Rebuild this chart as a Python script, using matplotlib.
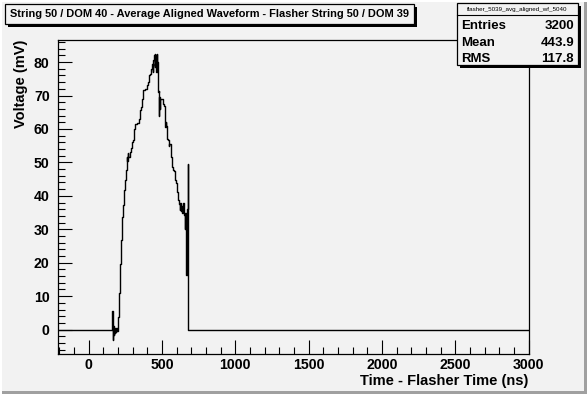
import matplotlib
matplotlib.use("Agg")
import matplotlib.pyplot as plt
from matplotlib.patches import Rectangle
from matplotlib.ticker import MultipleLocator

# ---- data ----
time_ns = [-210, 158, 160, 162, 164, 166, 168, 170, 173, 176, 180, 184, 188, 192, 196,
           200, 207, 216, 220, 227, 233, 240, 247, 252, 258, 263, 266, 270, 278, 289,
           296, 300, 307, 316, 330, 341, 348, 355, 362, 369, 382, 394, 403, 410, 416,
           423, 430, 436, 439, 446, 449, 452, 455, 458, 461, 464, 467, 471, 476, 480,
           482, 485, 489, 503, 514, 517, 519, 522, 525, 530, 535, 542, 545, 549, 558,
           565, 572, 581, 588, 595, 600, 604, 611, 618, 621, 623, 626, 629, 632, 634,
           637, 640, 643, 646, 649, 653, 656, 659, 662, 664, 666, 668, 670, 672, 674,
           676, 678, 3000]
voltage_mV = [0, 0, 5.7, -1, 3, -3, 1, -1.5, 0.5, -1, 0, -0.8, 0.5, -0.5, 1,
              3.8, 11, 19.7, 26.8, 33.8, 37.3, 41.7, 44.7, 47.7, 51.7, 50.5, 52.7, 51.5, 53.1, 54.2,
              56.1, 56.6, 60.1, 61.6, 61.8, 63.1, 65.6, 66.6, 69, 71.5, 72, 73, 74, 76, 76.5,
              78, 79.5, 77, 80.5, 82, 78.5, 82.5, 79, 82, 77, 82.5, 80, 71, 71.2, 64,
              69.5, 66, 69, 67.6, 67, 60.5, 63, 60.5, 62, 61, 57, 56.6, 54.8, 55.5, 51.7,
              48.7, 47.7, 47.5, 44.7, 43.7, 42.2, 41.2, 38.7, 37.5, 35.8, 37.8, 36, 38, 35.5, 37,
              34.9, 37.5, 35, 37.8, 34.5, 34.3, 30, 34.9, 26.8, 33, 16.4, 35, 18, 36, 45.2,
              49.5, 0, 0]

title = "String 50 / DOM 40 - Average Aligned Waveform - Flasher String 50 / DOM 39"
stats_name = "flasher_5039_avg_aligned_wf_5040"
stats_labels = ["Entries", "Mean", "RMS"]
stats_values = ["3200", "443.9", "117.8"]
x_label = "Time - Flasher Time (ns)"
y_label = "Voltage (mV)"

# ---- figure ----
W, H = 587, 394
BG = "#f2f2f2"
FONT = "Liberation Sans"
plt.rcParams["font.family"] = [FONT, "DejaVu Sans"]

fig = plt.figure(figsize=(W / 100, H / 100), dpi=100)
fig.patch.set_facecolor(BG)


def fx(px):
    return px / W


def fy(py):
    return 1 - py / H


# canvas bevel border
fig.patches.append(Rectangle((0, 0), 1, 3 / H, transform=fig.transFigure,
                             facecolor="#a0a0a0", edgecolor="none", zorder=0))
fig.patches.append(Rectangle((fx(W - 3), 0), fx(3), 1, transform=fig.transFigure,
                             facecolor="#a0a0a0", edgecolor="none", zorder=0))
fig.patches.append(Rectangle((0, fy(2)), 1, 2 / H, transform=fig.transFigure,
                             facecolor="#ffffff", edgecolor="none", zorder=0))
fig.patches.append(Rectangle((0, 0), 2 / W, 1, transform=fig.transFigure,
                             facecolor="#ffffff", edgecolor="none", zorder=0))

# axes
L, R, T, B = 58, 528.5, 40, 354
ax = fig.add_axes([fx(L), fy(B), fx(R - L), (B - T) / H])
ax.set_facecolor(BG)
ax.step(time_ns, voltage_mV, where="post", color="black", lw=1.0)
ax.set_xlim(-210, 3000)
ax.set_ylim(-7.3, 86.6)

ax.xaxis.set_major_locator(MultipleLocator(500))
ax.xaxis.set_minor_locator(MultipleLocator(100))
ax.yaxis.set_major_locator(MultipleLocator(10))
ax.yaxis.set_minor_locator(MultipleLocator(2))
ax.tick_params(which="both", direction="in", top=False, right=False, color="black", width=0.8)
ax.tick_params(axis="x", which="major", length=10, pad=3)
ax.tick_params(axis="x", which="minor", length=5)
ax.tick_params(axis="y", which="major", length=10, pad=6)
ax.tick_params(axis="y", which="minor", length=5)
for lab in ax.get_xticklabels() + ax.get_yticklabels():
    lab.set_fontweight("bold")
    lab.set_fontsize(10.2)
for s in ax.spines.values():
    s.set_linewidth(0.9)

fig.text(fx(R), fy(380.5), x_label, ha="right", va="center", fontsize=10.5, fontweight="bold")
fig.text(fx(21), fy(40), y_label, ha="center", va="top", rotation=90, fontsize=10.5,
         fontweight="bold")


def box(x0, y0, x1, y1, sh=3):
    fig.patches.append(Rectangle((fx(x0 + sh), fy(y1 + sh)), fx(x1 - x0), (y1 - y0) / H,
                                 transform=fig.transFigure, facecolor="black",
                                 edgecolor="none", zorder=3))
    fig.patches.append(Rectangle((fx(x0), fy(y1)), fx(x1 - x0), (y1 - y0) / H,
                                 transform=fig.transFigure, facecolor=BG,
                                 edgecolor="black", lw=0.9, zorder=4))


# title box
box(5, 4, 414, 24)
fig.text(fx(210), fy(14), title, ha="center", va="center", fontsize=7.95,
         fontweight="bold", zorder=5)

# stats box
box(456.5, 3, 578, 65)
fig.lines.append(plt.Line2D([fx(456.5), fx(578)], [fy(15), fy(15)], transform=fig.transFigure,
                            color="black", lw=0.8, zorder=5))
fig.text(fx(517), fy(9), stats_name, ha="center", va="center", fontsize=4.5, zorder=5)
rows_y = [26, 43, 59.5]
for lab, val, yy in zip(stats_labels, stats_values, rows_y):
    fig.text(fx(461), fy(yy), lab, ha="left", va="center", fontsize=9.5, fontweight="bold", zorder=5)
    fig.text(fx(574), fy(yy), val, ha="right", va="center", fontsize=9.5, fontweight="bold", zorder=5)

fig.savefig("out.png", dpi=100, facecolor=BG)
